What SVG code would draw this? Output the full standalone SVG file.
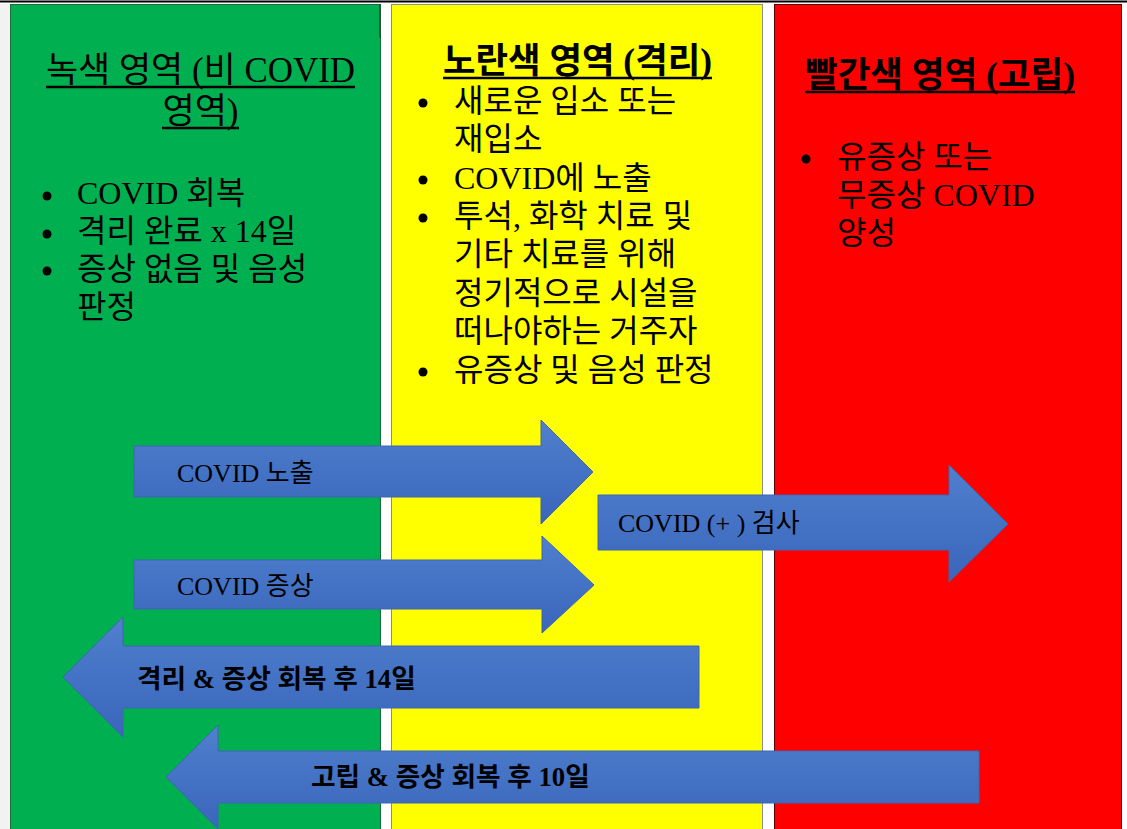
<svg xmlns="http://www.w3.org/2000/svg" width="1127" height="829" viewBox="0 0 1127 829">
<defs>
<style>
text{font-family:"Liberation Serif","Noto Sans CJK KR",serif;fill:#000}
.title{font-size:35px}
.tb{font-size:35.5px;font-weight:600}
.body{font-size:32px}
.lbl{font-size:26px}
.lblb{font-size:26.7px;font-weight:600}
.ul{stroke:#000;stroke-width:2.5}
.dot{fill:#000}
.arrow{fill:url(#blue);stroke:#3d66b0;stroke-width:1}
</style>
<linearGradient id="blue" x1="0" y1="0" x2="0" y2="1">
<stop offset="0" stop-color="#5280cf"/>
<stop offset="0.5" stop-color="#4472c4"/>
<stop offset="1" stop-color="#3a66bb"/>
</linearGradient>
</defs>
<rect x="0" y="0" width="1127" height="829" fill="#ffffff"/>
<rect x="0" y="4" width="10" height="825" fill="#f2f2f2"/>
<line x1="0" y1="1.5" x2="1127" y2="1.5" stroke="#000" stroke-width="2"/>

<g id="green-zone">
<rect x="10.5" y="4.5" width="370" height="826" fill="#00b050" stroke="#1e6b3c" stroke-width="1"/>
<line x1="380" y1="4" x2="380" y2="38" stroke="#2a4a35" stroke-width="1.5"/>
<text class="title" x="200.5" y="82" text-anchor="middle" textLength="309" lengthAdjust="spacingAndGlyphs">녹색 영역 (비 COVID</text>
<line class="ul" x1="46" y1="87" x2="355" y2="87"/>
<text class="title" x="200.5" y="123" text-anchor="middle">영역)</text>
<line class="ul" x1="162" y1="128" x2="239" y2="128"/>
<circle class="dot" cx="47" cy="196" r="4.5"/>
<text class="body" x="77" y="204">COVID 회복</text>
<circle class="dot" cx="47" cy="234" r="4.5"/>
<text class="body" x="77" y="242">격리 완료 x 14일</text>
<circle class="dot" cx="47" cy="271" r="4.5"/>
<text class="body" x="77" y="280">증상 없음 및 음성</text>
<text class="body" x="77" y="318">판정</text>
</g>

<g id="yellow-zone">
<rect x="391.5" y="4.5" width="371" height="826" fill="#ffff00" stroke="#8c8c8c" stroke-width="1"/>
<text class="tb" x="577.5" y="73" text-anchor="middle" textLength="269" lengthAdjust="spacingAndGlyphs">노란색 영역 (격리)</text>
<line class="ul" x1="443" y1="78" x2="712" y2="78"/>
<circle class="dot" cx="423" cy="103" r="4.5"/>
<text class="body" x="454" y="112">새로운 입소 또는</text>
<text class="body" x="454" y="150">재입소</text>
<circle class="dot" cx="423" cy="180" r="4.5"/>
<text class="body" x="454" y="189">COVID에 노출</text>
<circle class="dot" cx="423" cy="218" r="4.5"/>
<text class="body" x="454" y="227">투석, 화학 치료 및</text>
<text class="body" x="454" y="265">기타 치료를 위해</text>
<text class="body" x="454" y="304">정기적으로 시설을</text>
<text class="body" x="454" y="342">떠나야하는 거주자</text>
<circle class="dot" cx="423" cy="372" r="4.5"/>
<text class="body" x="454" y="381">유증상 및 음성 판정</text>
</g>

<g id="red-zone">
<rect x="774.5" y="4.5" width="347" height="826" fill="#ff0000" stroke="#5a0000" stroke-width="1"/>
<text class="tb" x="940" y="87" text-anchor="middle" textLength="270" lengthAdjust="spacingAndGlyphs">빨간색 영역 (고립)</text>
<line class="ul" x1="805" y1="92" x2="1075" y2="92"/>
<circle class="dot" cx="806" cy="159" r="4.5"/>
<text class="body" x="837" y="168">유증상 또는</text>
<text class="body" x="837" y="206">무증상 COVID</text>
<text class="body" x="837" y="244">양성</text>
</g>

<g id="connectors">
<g id="arrow-exposure">
<path class="arrow" d="M134,446 L541,446 L541,420 L593,472 L541,524 L541,497 L134,497 Z"/>
<text class="lbl" x="177" y="482">COVID 노출</text>
</g>
<g id="arrow-symptoms">
<path class="arrow" d="M134,560 L542,560 L542,536 L594,585 L542,633 L542,609 L134,609 Z"/>
<text class="lbl" x="177" y="595">COVID 증상</text>
</g>
<g id="arrow-positive">
<path class="arrow" d="M598,495 L949,495 L949,465 L1008,524 L949,582 L949,550 L598,550 Z"/>
<text class="lbl" x="618" y="532">COVID (+ ) 검사</text>
</g>
<g id="arrow-quarantine-recovery">
<path class="arrow" d="M699,646 L123,646 L123,617 L63,677 L123,737 L123,708 L699,708 Z"/>
<text class="lblb" x="137" y="688">격리 &amp; 증상 회복 후 14일</text>
</g>
<g id="arrow-isolation-recovery">
<path class="arrow" d="M979,751 L218,751 L218,725 L166,777 L218,829 L218,803 L979,803 Z"/>
<text class="lblb" x="311" y="786">고립 &amp; 증상 회복 후 10일</text>
</g>
</g>
</svg>
